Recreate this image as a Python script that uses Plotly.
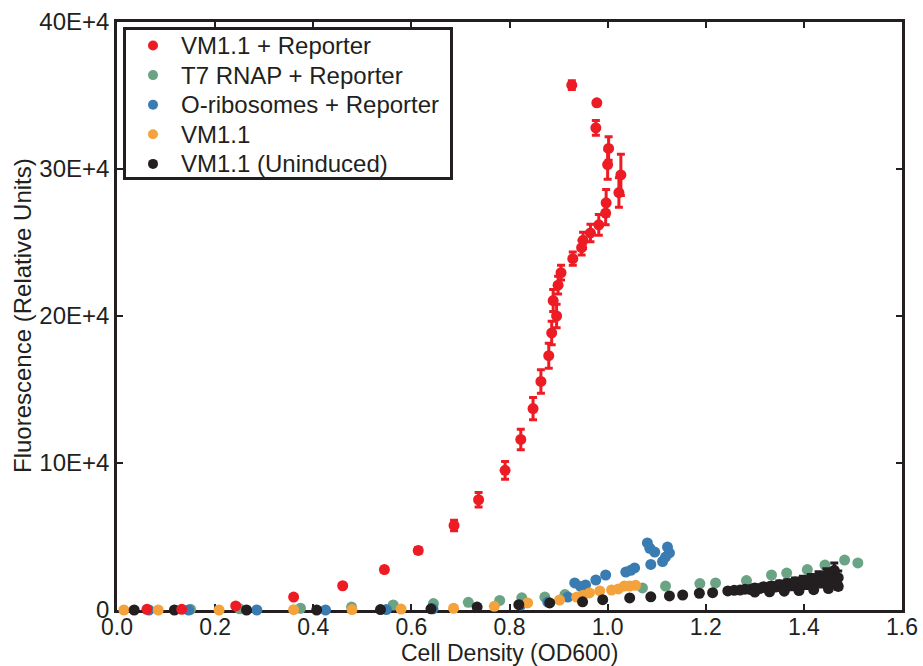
import plotly.graph_objects as go

# VM1.1 + Reporter
red_x = [0.061, 0.132, 0.242, 0.360, 0.460, 0.545, 0.614, 0.687, 0.737, 0.791,
         0.823, 0.848, 0.864, 0.880, 0.886, 0.896, 0.889, 0.899, 0.905, 0.929,
         0.947, 0.950, 0.965, 0.982, 0.996, 0.997, 1.023, 1.027, 1.000, 1.002,
         0.976, 0.978, 0.927]
red_y = [500, 500, 2800, 8800, 16500, 27500, 40500, 57500, 75000, 95000,
         116000, 137000, 155500, 173000, 188500, 200000, 210500, 221000, 229500, 239000,
         246500, 251500, 256500, 262000, 270000, 277000, 284000, 296000, 303000, 314000,
         328000, 345000, 357000]
red_err = [0, 0, 500, 800, 1200, 1600, 2000, 3600, 5000, 6000,
           7000, 7500, 8000, 8500, 8000, 8000, 7500, 6000, 5000, 4500,
           5000, 5500, 6000, 7000, 8000, 9000, 10000, 14000, 10000, 8000,
           5000, 1500, 3000]

# T7 RNAP + Reporter
green_x = [0.150, 0.250, 0.374, 0.478, 0.563, 0.645, 0.716, 0.780, 0.825, 0.872,
           0.913, 1.071, 1.118, 1.188, 1.220, 1.283, 1.334, 1.365, 1.407, 1.443,
           1.483, 1.510]
green_y = [500, 800, 1200, 2000, 3400, 4400, 5200, 6500, 8300, 8800,
           10500, 15000, 16300, 18000, 18400, 20000, 23800, 25100, 27500, 30600,
           34000, 32000]

# O-ribosomes + Reporter
blue_x = [0.065, 0.146, 0.285, 0.425, 0.549, 0.644, 0.823, 0.878, 0.919, 0.933,
          0.945, 0.955, 0.976, 0.996, 1.037, 1.047, 1.055, 1.081, 1.086, 1.096,
          1.088, 1.112, 1.118, 1.122, 1.126]
blue_y = [0, 0, 0, 0, 300, 800, 3400, 5400, 8800, 18400,
          16000, 17000, 20400, 23800, 25800, 27000, 28600, 45600, 42000, 39400,
          31000, 33000, 36000, 42800, 38800]

# VM1.1
orange_x = [0.014, 0.084, 0.208, 0.360, 0.479, 0.579, 0.686, 0.769, 0.837, 0.902,
            0.937, 0.950, 0.963, 0.984, 1.008, 1.022, 1.034, 1.045, 1.057]
orange_y = [0, 0, 0, 200, 300, 600, 1200, 2500, 4800, 6800,
            8800, 10000, 11600, 13000, 13600, 14300, 16300, 16300, 16800]

# VM1.1 (Uninduced)
black_x = [0.035, 0.117, 0.264, 0.407, 0.537, 0.640, 0.734, 0.819, 0.882, 0.949,
           0.990, 1.045, 1.088, 1.126, 1.153, 1.187, 1.214,
           1.245, 1.258, 1.270, 1.280, 1.290, 1.300, 1.310, 1.318, 1.326, 1.334,
           1.342, 1.350, 1.358, 1.366, 1.374, 1.382, 1.390, 1.398, 1.406, 1.414,
           1.422, 1.430, 1.438, 1.446, 1.454, 1.462, 1.470,
           1.300, 1.330, 1.360, 1.390, 1.420, 1.450, 1.470]
black_y = [0, 0, 0, 0, 300, 800, 2000, 3600, 4800, 5600,
           7000, 8200, 9000, 9600, 10200, 11400, 11800,
           13000, 13400, 13600, 14200, 14000, 15000, 14600, 15800, 15200, 16400,
           15600, 17200, 16000, 18000, 16600, 19000, 17000, 20000, 17600, 21000,
           18400, 22500, 19200, 24000, 20500, 27000, 22000,
           12200, 12400, 12800, 13200, 13800, 14600, 16000]
black_err = [0, 0, 0, 0, 0, 0, 0, 0, 0, 0,
             0, 0, 0, 0, 0, 0, 0,
             1500, 1500, 1500, 1800, 1800, 2000, 2000, 2000, 2200, 2200,
             2200, 2500, 2500, 2500, 2800, 2800, 2800, 3000, 3000, 3200,
             3200, 3500, 3500, 4000, 4000, 5000, 4500,
             1000, 1000, 1200, 1200, 1500, 1500, 2000]

y_ticks = [0, 100000, 200000, 300000, 400000]
y_tick_text = ["0", "10E+4", "20E+4", "30E+4", "40E+4"]
x_ticks = [0.0, 0.2, 0.4, 0.6, 0.8, 1.0, 1.2, 1.4, 1.6]
x_tick_text = ["0.0", "0.2", "0.4", "0.6", "0.8", "1.0", "1.2", "1.4", "1.6"]

x_title = "Cell Density (OD600)"
y_title = "Fluorescence (Relative Units)"
names = ["VM1.1 + Reporter", "T7 RNAP + Reporter", "O-ribosomes + Reporter",
         "VM1.1", "VM1.1 (Uninduced)"]
colors = ["#ED1C24", "#6AA484", "#3A7BB1", "#F4A23C", "#231F20"]

FONT = "Liberation Sans, Arial, Helvetica, sans-serif"
INK = "#231F20"

# plot-area geometry (pixels)
W, H = 923, 666
ML, MR, MT, MB = 117, 21, 22, 56
PW, PH = W - ML - MR, H - MT - MB


def px_x(p):
    return (p - ML) / PW


def px_y(p):
    return (H - MB - p) / PH


fig = go.Figure()

series = [
    (names[1], green_x, green_y, None, colors[1]),
    (names[2], blue_x, blue_y, None, colors[2]),
    (names[3], orange_x, orange_y, None, colors[3]),
    (names[4], black_x, black_y, black_err, colors[4]),
    (names[0], red_x, red_y, red_err, colors[0]),
]
for name, xs, ys, err, col in series:
    kw = {}
    if err is not None:
        kw["error_y"] = dict(type="data", array=err, visible=True,
                             color=col, thickness=3, width=4)
    fig.add_trace(go.Scatter(
        x=xs, y=ys, mode="markers", name=name, showlegend=False, cliponaxis=False,
        marker=dict(color=col, size=11, line=dict(width=0)), **kw))

# boxed key in the upper-left corner
shapes = [dict(type="rect", xref="paper", yref="paper",
               x0=px_x(124.5), x1=px_x(451.5), y0=px_y(178.5), y1=px_y(28.5),
               line=dict(color=INK, width=3), fillcolor="white", layer="above")]
annotations = []
for i, (name, col) in enumerate(zip(names, colors)):
    cy = 45.5 + i * 29.6
    shapes.append(dict(type="circle", xref="paper", yref="paper",
                       x0=px_x(148), x1=px_x(158), y0=px_y(cy + 5), y1=px_y(cy - 5),
                       line=dict(width=0), fillcolor=col, layer="above"))
    annotations.append(dict(text=name, xref="paper", yref="paper",
                            x=px_x(179), y=px_y(cy), xanchor="left", yanchor="middle",
                            showarrow=False,
                            font=dict(family=FONT, size=24, color=INK)))

# axis titles
annotations.append(dict(text=x_title, xref="paper", yref="paper",
                        x=0.5, y=px_y(653), xanchor="center", yanchor="middle",
                        showarrow=False, font=dict(family=FONT, size=23, color=INK)))
annotations.append(dict(text=y_title, xref="paper", yref="paper", textangle=-90,
                        x=px_x(22), y=0.5, xanchor="center", yanchor="middle",
                        showarrow=False, font=dict(family=FONT, size=24, color=INK)))

axis_common = dict(
    showline=True, linecolor=INK, linewidth=2.5, mirror="ticks",
    ticks="inside", ticklen=6, tickwidth=2, tickcolor=INK,
    showgrid=False, zeroline=False, layer="below traces", automargin=False,
)

fig.update_layout(
    width=W, height=H,
    margin=dict(l=ML, r=MR, t=MT, b=MB),
    paper_bgcolor="white", plot_bgcolor="white",
    font=dict(family=FONT, color=INK),
    showlegend=False,
    shapes=shapes, annotations=annotations,
    xaxis=dict(range=[0, 1.6], tickvals=x_ticks, ticktext=x_tick_text,
               ticklabelstandoff=-5,
               tickfont=dict(family=FONT, size=23, color=INK), **axis_common),
    yaxis=dict(range=[0, 400000], tickvals=y_ticks, ticktext=y_tick_text,
               tickfont=dict(family=FONT, size=24, color=INK), **axis_common),
)

fig.write_html("out.html")
